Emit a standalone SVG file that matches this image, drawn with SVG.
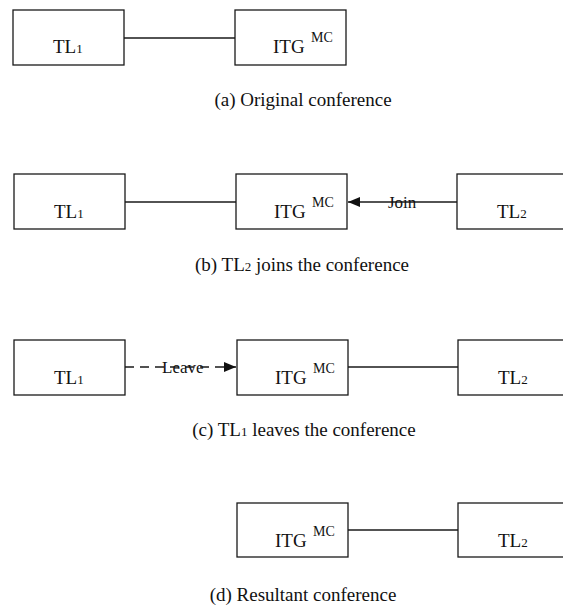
<svg xmlns="http://www.w3.org/2000/svg" width="563" height="611" viewBox="0 0 563 611">
<style>
.box{fill:#fff;stroke:#1a1a1a;stroke-width:1.3}
.ln{fill:none;stroke:#1a1a1a;stroke-width:1.3}
.dash{stroke-dasharray:9 6}
text{font-family:"Liberation Serif","Times New Roman",serif;fill:#111}
.lbl{font-size:19px}
.sub{font-size:13px}
.sup{font-size:14px}
.cap{font-size:19px;text-anchor:middle}
.el{font-size:17px}
</style>
<defs>
<marker id="ah" viewBox="0 0 12 10" refX="12" refY="5" markerWidth="12" markerHeight="10" markerUnits="userSpaceOnUse" orient="auto">
<path d="M0,0 L12,5 L0,10 Z" fill="#111"/>
</marker>
</defs>
<rect width="563" height="611" fill="#fff"/>

<g id="connectors">
<line class="ln" x1="124" y1="38" x2="235" y2="38"/>
<line class="ln" x1="125" y1="202" x2="236" y2="202"/>
<line class="ln" x1="457" y1="202" x2="348" y2="202" marker-end="url(#ah)"/>
<line class="ln dash" x1="125" y1="367" x2="236" y2="367" marker-end="url(#ah)"/>
<line class="ln" x1="348" y1="367" x2="458" y2="367"/>
<line class="ln" x1="348" y1="530" x2="458" y2="530"/>
<text class="el" x="388" y="208">Join</text>
<text class="el" x="162" y="373">Leave</text>
</g>

<!-- (a) -->
<g id="a-TL1"><rect class="box" x="13" y="10" width="111" height="55"/><text class="lbl" x="53" y="53">TL<tspan class="sub">1</tspan></text></g>
<g id="a-ITG"><rect class="box" x="235" y="10" width="111" height="55"/><text class="lbl" x="273" y="53">ITG</text><text class="sup" x="311" y="42">MC</text></g>
<text class="cap" x="303" y="106">(a) Original conference</text>

<!-- (b) -->
<g id="b-TL1"><rect class="box" x="14" y="174" width="111" height="55"/><text class="lbl" x="54" y="218">TL<tspan class="sub">1</tspan></text></g>
<g id="b-ITG"><rect class="box" x="236" y="174" width="111" height="55"/><text class="lbl" x="274" y="218">ITG</text><text class="sup" x="312" y="207">MC</text></g>
<g id="b-TL2"><rect class="box" x="457" y="174" width="120" height="55"/><text class="lbl" x="497" y="218">TL<tspan class="sub">2</tspan></text></g>
<text class="cap" x="302" y="271">(b) TL<tspan class="sub">2</tspan> joins the conference</text>

<!-- (c) -->
<g id="c-TL1"><rect class="box" x="14" y="340" width="111" height="55"/><text class="lbl" x="54" y="384">TL<tspan class="sub">1</tspan></text></g>
<g id="c-ITG"><rect class="box" x="237" y="340" width="111" height="55"/><text class="lbl" x="275" y="384">ITG</text><text class="sup" x="313" y="373">MC</text></g>
<g id="c-TL2"><rect class="box" x="458" y="340" width="120" height="55"/><text class="lbl" x="498" y="384">TL<tspan class="sub">2</tspan></text></g>
<text class="cap" x="304" y="436">(c) TL<tspan class="sub">1</tspan> leaves the conference</text>

<!-- (d) -->
<g id="d-ITG"><rect class="box" x="237" y="503" width="111" height="54"/><text class="lbl" x="275" y="547">ITG</text><text class="sup" x="313" y="536">MC</text></g>
<g id="d-TL2"><rect class="box" x="458" y="503" width="120" height="54"/><text class="lbl" x="498" y="547">TL<tspan class="sub">2</tspan></text></g>
<text class="cap" x="303" y="601">(d) Resultant conference</text>
</svg>
